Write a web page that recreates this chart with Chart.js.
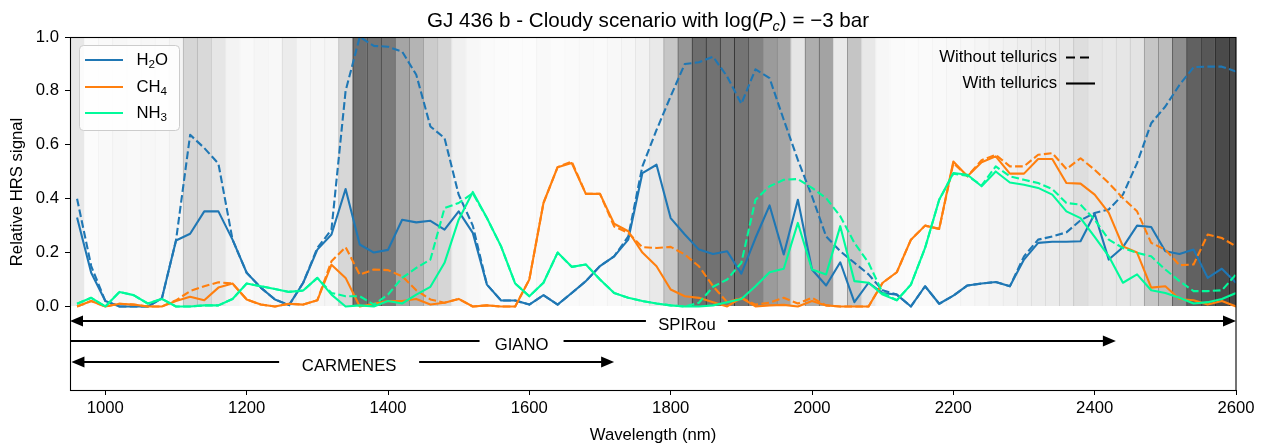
<!DOCTYPE html>
<html lang="en">
<head>
<meta charset="UTF-8">
<title>GJ 436 b - Cloudy scenario</title>
<script src="https://cdn.jsdelivr.net/npm/chart.js@4.4.1/dist/chart.umd.min.js"></script>
<style>
  html, body { margin: 0; padding: 0; background: #fff; }
  #wrap { width: 1269px; height: 443px; }
</style>
</head>
<body>
<div id="wrap"><canvas id="hrsChart" width="1269" height="443"></canvas></div>
<script>
// wavelength grid (nm), centre of each 20 nm bin
const wavelength = [
  960, 980, 1000, 1020, 1040, 1060, 1080, 1100, 1120, 1140,
  1160, 1180, 1200, 1220, 1240, 1260, 1280, 1300, 1320, 1340,
  1360, 1380, 1400, 1420, 1440, 1460, 1480, 1500, 1520, 1540,
  1560, 1580, 1600, 1620, 1640, 1660, 1680, 1700, 1720, 1740,
  1760, 1780, 1800, 1820, 1840, 1860, 1880, 1900, 1920, 1940,
  1960, 1980, 2000, 2020, 2040, 2060, 2080, 2100, 2120, 2140,
  2160, 2180, 2200, 2220, 2240, 2260, 2280, 2300, 2320, 2340,
  2360, 2380, 2400, 2420, 2440, 2460, 2480, 2500, 2520, 2540,
  2560, 2580, 2600
];

// relative HRS signal, with tellurics (solid)
const h2oWith = [
  0.33, 0.125, 0.02, 0.0, 0.0, 0.0, 0.03, 0.245, 0.27, 0.353,
  0.353, 0.248, 0.125, 0.07, 0.026, 0.005, 0.088, 0.211, 0.267, 0.436,
  0.23, 0.2, 0.21, 0.322, 0.312, 0.318, 0.285, 0.353, 0.273, 0.081,
  0.022, 0.022, 0.007, 0.042, 0.007, 0.05, 0.094, 0.15, 0.186, 0.248,
  0.495, 0.526, 0.328, 0.267, 0.211, 0.195, 0.205, 0.122, 0.254, 0.375,
  0.193, 0.396, 0.137, 0.078, 0.164, 0.016, 0.088, 0.05, 0.044, 0.0,
  0.075, 0.01, 0.04, 0.078, 0.085, 0.091, 0.075, 0.174, 0.236, 0.24,
  0.24, 0.242, 0.344, 0.174, 0.22, 0.30, 0.295, 0.205, 0.195, 0.211,
  0.106, 0.14, 0.088
];
const ch4With = [
  0.0, 0.02, 0.0, 0.01, 0.007, 0.0, 0.0, 0.02, 0.036, 0.023,
  0.07, 0.085, 0.026, 0.007, 0.0, 0.01, 0.007, 0.023, 0.155, 0.106,
  0.0, 0.01, 0.02, 0.02, 0.028, 0.007, 0.014, 0.028, 0.0, 0.004,
  0.0, 0.0, 0.1, 0.384, 0.517, 0.532, 0.418, 0.418, 0.307, 0.279,
  0.2, 0.149, 0.063, 0.038, 0.032, 0.016, 0.0, 0.032, 0.0, 0.004,
  0.006, 0.0, 0.02, 0.004, 0.0, 0.0, 0.0, 0.088, 0.127, 0.248,
  0.30, 0.288, 0.538, 0.483, 0.535, 0.557, 0.493, 0.493, 0.547, 0.547,
  0.458, 0.456, 0.415, 0.347, 0.223, 0.2, 0.07, 0.075, 0.028, 0.023,
  0.007, 0.02, 0.0
];
const nh3With = [
  0.01, 0.032, 0.0, 0.054, 0.042, 0.011, 0.028, 0.0, 0.0, 0.004,
  0.004, 0.028, 0.085, 0.075, 0.065, 0.054, 0.059, 0.106, 0.044, 0.0,
  0.004, 0.0, 0.02, 0.011, 0.044, 0.073, 0.162, 0.322, 0.425, 0.328,
  0.223, 0.085, 0.038, 0.088, 0.2, 0.147, 0.156, 0.1, 0.05, 0.032,
  0.02, 0.011, 0.004, 0.0, 0.0, 0.004, 0.016, 0.028, 0.075, 0.127,
  0.14, 0.31, 0.137, 0.119, 0.298, 0.094, 0.088, 0.044, 0.023, 0.081,
  0.217, 0.396, 0.495, 0.489, 0.446, 0.501, 0.46, 0.452, 0.44, 0.415,
  0.353, 0.328, 0.258, 0.186, 0.088, 0.119, 0.06, 0.05, 0.032, 0.011,
  0.016, 0.028, 0.05
];

// relative HRS signal, without tellurics (dashed)
const h2oWithout = [
  0.40, 0.15, 0.02, 0.0, 0.0, 0.0, 0.03, 0.245, 0.637, 0.588,
  0.53, 0.248, 0.125, 0.07, 0.026, 0.005, 0.088, 0.217, 0.285, 0.80,
  1.0, 0.967, 0.964, 0.946, 0.86, 0.668, 0.625, 0.415, 0.3, 0.081,
  0.022, 0.022, 0.007, 0.042, 0.007, 0.05, 0.094, 0.15, 0.186, 0.26,
  0.52, 0.655, 0.78, 0.90, 0.906, 0.927, 0.853, 0.752, 0.88, 0.847,
  0.693, 0.544, 0.409, 0.26, 0.205, 0.162, 0.119, 0.06, 0.044, 0.0,
  0.075, 0.01, 0.04, 0.078, 0.085, 0.091, 0.075, 0.186, 0.248, 0.26,
  0.275, 0.32, 0.347, 0.36, 0.415, 0.532, 0.68, 0.742, 0.822, 0.888,
  0.89, 0.89, 0.872
];
const ch4Without = [
  0.0, 0.02, 0.0, 0.01, 0.007, 0.0, 0.0, 0.023, 0.057, 0.075,
  0.09, 0.085, 0.026, 0.007, 0.0, 0.01, 0.007, 0.023, 0.168, 0.22,
  0.118, 0.137, 0.135, 0.112, 0.06, 0.026, 0.014, 0.028, 0.0, 0.004,
  0.0, 0.0, 0.1, 0.384, 0.517, 0.538, 0.418, 0.418, 0.297, 0.273,
  0.22, 0.217, 0.221, 0.193, 0.149, 0.075, 0.016, 0.032, 0.007, 0.014,
  0.032, 0.011, 0.032, 0.004, 0.0, 0.0, 0.0, 0.088, 0.127, 0.248,
  0.30, 0.288, 0.532, 0.483, 0.543, 0.563, 0.52, 0.52, 0.563, 0.569,
  0.51, 0.55, 0.507, 0.458, 0.402, 0.353, 0.236, 0.211, 0.153, 0.156,
  0.267, 0.254, 0.223
];
const nh3Without = [
  0.01, 0.032, 0.0, 0.054, 0.042, 0.011, 0.028, 0.0, 0.0, 0.004,
  0.004, 0.028, 0.085, 0.075, 0.065, 0.054, 0.059, 0.106, 0.05, 0.038,
  0.038, 0.007, 0.044, 0.106, 0.143, 0.174, 0.365, 0.384, 0.42, 0.328,
  0.223, 0.085, 0.038, 0.088, 0.2, 0.147, 0.156, 0.1, 0.05, 0.032,
  0.02, 0.011, 0.004, 0.0, 0.014, 0.073, 0.1, 0.162, 0.396, 0.446,
  0.47, 0.473, 0.44, 0.402, 0.335, 0.236, 0.162, 0.05, 0.023, 0.081,
  0.217, 0.396, 0.493, 0.485, 0.449, 0.52, 0.483, 0.47, 0.458, 0.436,
  0.384, 0.378, 0.322, 0.248, 0.217, 0.199, 0.186, 0.137, 0.094, 0.057,
  0.057, 0.06, 0.119
];

// telluric shading per 20 nm bin (grey level, 255 = transparent sky)
const telluricGrey = [
  232, 251, 249, 247, 249, 247, 248, 244, 214, 217,
  230, 243, 249, 246, 248, 236, 246, 246, 245, 215,
  112, 118, 122, 165, 180, 204, 214, 240, 247, 250,
  251, 252, 252, 249, 251, 250, 249, 250, 248, 246,
  242, 233, 198, 149, 110, 114, 124, 116, 131, 155,
  165, 229, 174, 163, 234, 197, 232, 247, 250, 251,
  250, 249, 248, 247, 245, 243, 241, 238, 236, 235,
  231, 222, 230, 232, 230, 227, 198, 188, 142, 97,
  87, 74, 74
];

// spectrograph coverage (nm)
const instruments = ['SPIRou', 'GIANO', 'CARMENES'];
const instStart = [950, 900, 952];
const instEnd = [2600, 2430, 1720];

const xTicks = [1000, 1200, 1400, 1600, 1800, 2000, 2200, 2400, 2600];
const yTicks = [0.0, 0.2, 0.4, 0.6, 0.8, 1.0];

const FONT = "'Liberation Sans', Arial, Helvetica, sans-serif";
const FS = 16.7;
const BLUE = '#1f77b4', ORANGE = '#ff7f0e', GREEN = '#00fa9a';
const DASH = [7.7, 3.3];

function pts(vals) {
  return wavelength.map((w, i) => ({ x: w, y: vals[i] }));
}

function lineSet(label, vals, color, dashed, order) {
  return {
    type: 'line', label: label, data: pts(vals),
    borderColor: color, borderWidth: 2.1, borderDash: dashed ? DASH : [],
    pointRadius: 0, tension: 0, fill: false, order: order,
    borderJoinStyle: 'round', borderCapStyle: 'butt'
  };
}

const bandSet = {
  type: 'bar', label: 'tellurics',
  data: wavelength.map(w => ({ x: w, y: [0, 1] })),
  backgroundColor: telluricGrey.map(g => `rgb(${g},${g},${g})`),
  borderColor: telluricGrey.map(g => { const e = Math.round(g * g / 255); return `rgb(${e},${e},${e})`; }),
  borderWidth: { left: 1, right: 0, top: 0, bottom: 0 },
  borderSkipped: false,
  barPercentage: 1, categoryPercentage: 1, grouped: false,
  order: 100
};

// draws text with a subscript part
function drawChem(ctx, parts, x, y) {
  // parts: [base, sub, rest]
  ctx.textBaseline = 'middle';
  ctx.textAlign = 'left';
  ctx.font = `${FS}px ${FONT}`;
  ctx.fillText(parts[0], x, y);
  x += ctx.measureText(parts[0]).width;
  ctx.font = `${FS * 0.7}px ${FONT}`;
  ctx.fillText(parts[1], x, y + 5);
  x += ctx.measureText(parts[1]).width;
  ctx.font = `${FS}px ${FONT}`;
  ctx.fillText(parts[2], x, y);
}

function arrowHead(ctx, tip, yy, dir) {
  const hl = 13, hw = 5.5;
  ctx.beginPath();
  ctx.moveTo(tip, yy);
  ctx.lineTo(tip - dir * hl, yy - hw);
  ctx.lineTo(tip - dir * hl, yy + hw);
  ctx.closePath();
  ctx.fill();
}

const decor = {
  id: 'decor',
  afterDraw(chart) {
    const { ctx, chartArea: a, scales: { x, y } } = chart;
    ctx.save();
    ctx.fillStyle = '#000';
    ctx.strokeStyle = '#000';

    // instrument coverage arrows
    const levels = [-0.055, -0.13, -0.205];
    const labelAt = [1823, 1589, 1345];
    const gapHalf = [41, 42, 70];
    ctx.save();
    ctx.beginPath();
    ctx.rect(a.left, a.top, a.right - a.left, a.bottom - a.top);
    ctx.clip();
    instruments.forEach((name, i) => {
      const yy = Math.round(y.getPixelForValue(levels[i]));
      const x1 = x.getPixelForValue(instStart[i]);
      const x2 = x.getPixelForValue(instEnd[i]);
      ctx.lineWidth = 2.2;
      ctx.beginPath();
      ctx.moveTo(x1 + 10, yy);
      ctx.lineTo(x2 - 10, yy);
      ctx.stroke();
      arrowHead(ctx, x1, yy, -1);
      arrowHead(ctx, x2, yy, 1);
      const cx = x.getPixelForValue(labelAt[i]);
      ctx.fillStyle = '#fff';
      ctx.fillRect(cx - gapHalf[i], yy - 9, gapHalf[i] * 2, 19);
      ctx.fillStyle = '#000';
      ctx.font = `${FS}px ${FONT}`;
      ctx.textAlign = 'center';
      ctx.textBaseline = 'middle';
      ctx.fillText(name, cx, yy + 4);
    });
    ctx.restore();

    // frame
    ctx.lineWidth = 1.1;
    ctx.strokeRect(a.left + 0.5, a.top + 0.5, a.right - a.left - 0.5, a.bottom - a.top);

    // species legend
    const lx = 79, ly = 45;
    ctx.beginPath();
    ctx.roundRect(lx + 0.5, ly + 0.5, 100, 85, 4);
    ctx.fillStyle = 'rgba(255,255,255,0.8)';
    ctx.fill();
    ctx.strokeStyle = '#cccccc';
    ctx.lineWidth = 1;
    ctx.stroke();
    const species = [['H', '2', 'O'], ['CH', '4', ''], ['NH', '3', '']];
    const colors = [BLUE, ORANGE, GREEN];
    const rows = [60, 87, 113];
    species.forEach((sp, i) => {
      ctx.strokeStyle = colors[i];
      ctx.lineWidth = 2.1;
      ctx.beginPath();
      ctx.moveTo(85, rows[i]);
      ctx.lineTo(123, rows[i]);
      ctx.stroke();
      ctx.fillStyle = '#000';
      drawChem(ctx, sp, 136.5, rows[i]);
    });

    // tellurics legend
    ctx.fillStyle = '#000';
    ctx.strokeStyle = '#000';
    ctx.font = `${FS}px ${FONT}`;
    ctx.textAlign = 'right';
    ctx.textBaseline = 'middle';
    ctx.fillText('Without tellurics', 1057, 57.5);
    ctx.fillText('With tellurics', 1057, 83.5);
    ctx.lineWidth = 2.1;
    ctx.setLineDash([9, 5]);
    ctx.beginPath(); ctx.moveTo(1066, 57.5); ctx.lineTo(1089, 57.5); ctx.stroke();
    ctx.setLineDash([]);
    ctx.beginPath(); ctx.moveTo(1066, 83.5); ctx.lineTo(1095, 83.5); ctx.stroke();

    // title
    const segs = [
      { t: 'GJ 436 b - Cloudy scenario with log(', f: `20.6px ${FONT}`, dy: 0 },
      { t: 'P', f: `italic 20.6px ${FONT}`, dy: 0 },
      { t: 'c', f: `italic 14.5px ${FONT}`, dy: 4 },
      { t: ') = \u22123 bar', f: `20.6px ${FONT}`, dy: 0 }
    ];
    let tw = 0;
    segs.forEach(s => { ctx.font = s.f; s.w = ctx.measureText(s.t).width; tw += s.w; });
    let tx = (a.left + a.right) / 2 - 5 - tw / 2;
    ctx.textAlign = 'left';
    ctx.textBaseline = 'alphabetic';
    segs.forEach(s => { ctx.font = s.f; ctx.fillText(s.t, tx, 26.7 + s.dy); tx += s.w; });

    // axis titles
    ctx.font = `${FS}px ${FONT}`;
    ctx.textAlign = 'center';
    ctx.fillText('Wavelength (nm)', (a.left + a.right) / 2, 440);
    ctx.save();
    ctx.translate(22, 192);
    ctx.rotate(-Math.PI / 2);
    ctx.textBaseline = 'alphabetic';
    ctx.fillText('Relative HRS signal', 0, 0);
    ctx.restore();

    ctx.restore();
  }
};

new Chart(document.getElementById('hrsChart'), {
  type: 'line',
  data: {
    datasets: [
      lineSet('H2O without', h2oWithout, BLUE, true, 6),
      lineSet('H2O with', h2oWith, BLUE, false, 5),
      lineSet('CH4 without', ch4Without, ORANGE, true, 4),
      lineSet('CH4 with', ch4With, ORANGE, false, 3),
      lineSet('NH3 without', nh3Without, GREEN, true, 2),
      lineSet('NH3 with', nh3With, GREEN, false, 1),
      bandSet
    ]
  },
  options: {
    responsive: false,
    animation: false,
    devicePixelRatio: 1,
    layout: { padding: { left: 0, right: 33, top: 37, bottom: 0 } },
    plugins: {
      legend: { display: false },
      tooltip: { enabled: false },
      title: { display: false }
    },
    scales: {
      x: {
        type: 'linear', min: 950, max: 2600, offset: false,
        grid: { offset: false, drawOnChartArea: false, drawTicks: true, tickLength: 5, color: '#000', lineWidth: 1 },
        border: { display: false },
        ticks: {
          color: '#000', font: { family: FONT, size: FS }, padding: 3,
          maxRotation: 0, autoSkip: false, callback: v => String(v)
        },
        afterBuildTicks: s => { s.ticks = xTicks.map(v => ({ value: v })); },
        afterFit: s => { s.height = 53; }
      },
      y: {
        type: 'linear', min: -0.31, max: 1.0,
        grid: { offset: false, drawOnChartArea: false, drawTicks: true, tickLength: 5, color: '#000', lineWidth: 1 },
        border: { display: false },
        ticks: {
          color: '#000', font: { family: FONT, size: FS }, padding: 6,
          callback: v => Number(v).toFixed(1)
        },
        afterBuildTicks: s => { s.ticks = yTicks.map(v => ({ value: v })); },
        afterFit: s => { s.width = 70; }
      }
    }
  },
  plugins: [decor]
});
</script>
</body>
</html>
